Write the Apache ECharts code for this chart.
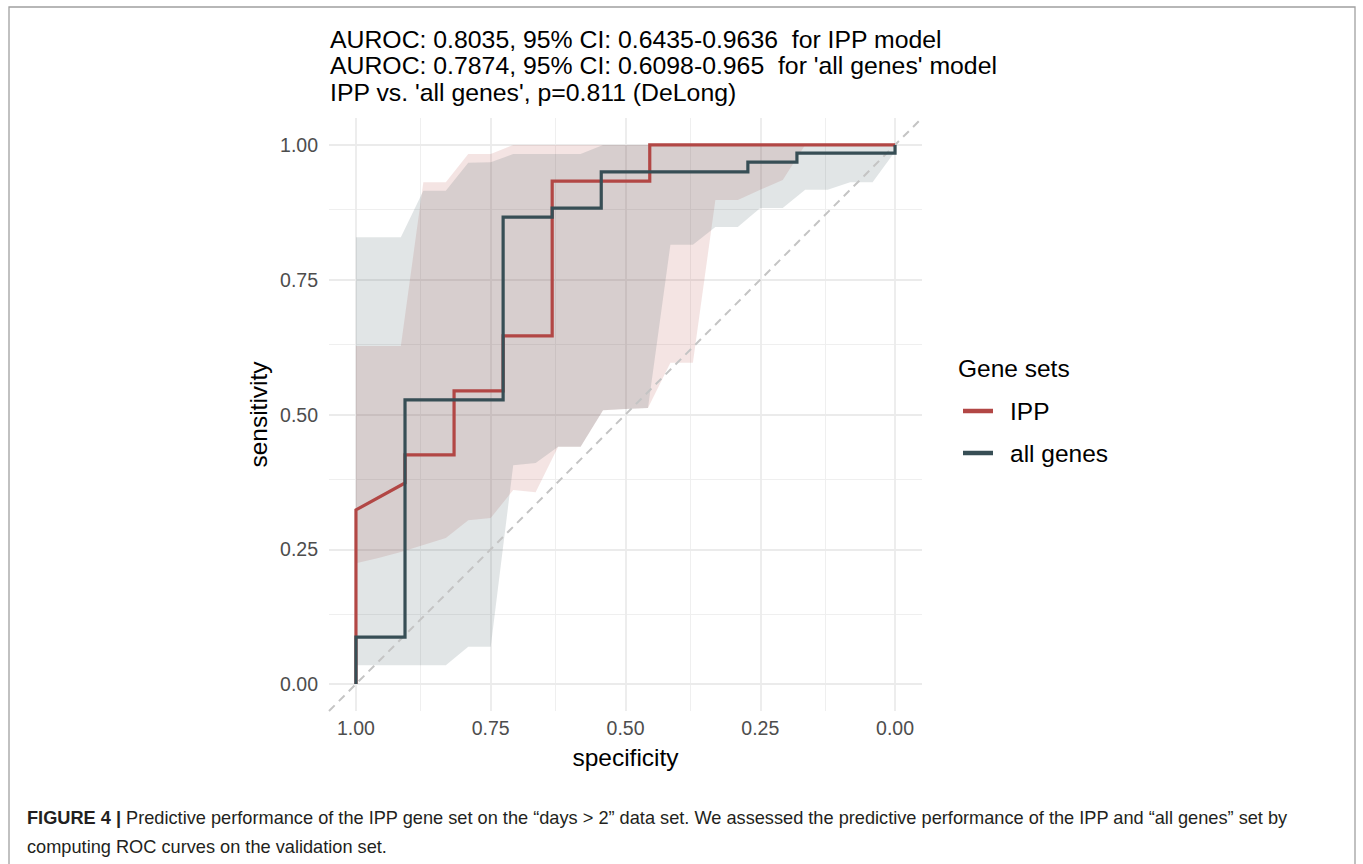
<!DOCTYPE html>
<html><head><meta charset="utf-8">
<script src="https://cdn.jsdelivr.net/npm/echarts@6/dist/echarts.min.js"></script>
<style>html,body{margin:0;padding:0;background:#fff}#c{width:1363px;height:864px}</style>
</head><body><div id="c"></div>
<script>
// ---- text ----
const titleLines = [
  "AUROC: 0.8035, 95% CI: 0.6435-0.9636  for IPP model",
  "AUROC: 0.7874, 95% CI: 0.6098-0.965  for 'all genes' model",
  "IPP vs. 'all genes', p=0.811 (DeLong)"
];
const xName = "specificity";
const yName = "sensitivity";
const legendTitle = "Gene sets";
const seriesNames = ["IPP", "all genes"];
const captionBold = "FIGURE 4 |";
const captionLine1 = " Predictive performance of the IPP gene set on the \u201cdays > 2\u201d data set. We assessed the predictive performance of the IPP and \u201call genes\u201d set by";
const captionLine2 = "computing ROC curves on the validation set.";

// ---- ticks ----
const xTicks = [0, 0.25, 0.5, 0.75, 1];
const yTicks = [0, 0.25, 0.5, 0.75, 1];
const minorTicks = [0.125, 0.375, 0.625, 0.875];

// ---- confidence bands (sensitivity CI at specificity grid) ----
const ciSpec   = [1, 0.9583, 0.9167, 0.875, 0.8333, 0.7917, 0.75, 0.7083, 0.6667, 0.625, 0.5833, 0.5417, 0.5, 0.4583, 0.4167, 0.375, 0.3333, 0.2917, 0.25, 0.2083, 0.1667, 0.125, 0.0833, 0.0417, 0];
const ippLower = [0.224, 0.234, 0.245, 0.258, 0.271, 0.304, 0.308, 0.36, 0.356, 0.44, 0.44, 0.508, 0.51, 0.512, 0.596, 0.596, 0.898, 0.898, 0.917, 0.935, 1, 1, 1, 1, 1];
const ippUpper = [0.627, 0.627, 0.627, 0.931, 0.931, 0.983, 0.983, 1, 1, 1, 1, 1, 1, 1, 1, 1, 1, 1, 1, 1, 1, 1, 1, 1, 1];
const allLower = [0.035, 0.035, 0.035, 0.035, 0.035, 0.069, 0.069, 0.406, 0.41, 0.44, 0.44, 0.508, 0.51, 0.512, 0.815, 0.815, 0.848, 0.848, 0.883, 0.883, 0.917, 0.917, 0.931, 0.931, 0.988];
const allUpper = [0.829, 0.829, 0.829, 0.915, 0.915, 0.967, 0.968, 0.983, 0.983, 0.983, 0.983, 1, 1, 1, 1, 1, 1, 1, 1, 1, 1, 1, 1, 1, 1];

// ---- ROC curves ----
const ippSpec = [1, 1, 0.909, 0.909, 0.818, 0.818, 0.727, 0.727, 0.636, 0.636, 0.455, 0.455, 0];
const ippSens = [0, 0.323, 0.373, 0.425, 0.425, 0.544, 0.544, 0.646, 0.646, 0.933, 0.933, 1, 1];
const allSpec = [1, 1, 0.909, 0.909, 0.727, 0.727, 0.636, 0.636, 0.545, 0.545, 0.273, 0.273, 0.182, 0.182, 0, 0];
const allSens = [0, 0.087, 0.087, 0.527, 0.527, 0.866, 0.866, 0.883, 0.883, 0.95, 0.95, 0.968, 0.968, 0.985, 0.985, 1];

// chance diagonal
const chanceSpec = [1.05, -0.05];
const chanceSens = [-0.05, 1.05];

const RED = '#B24745', DARK = '#374E55';
const FONT = '"Liberation Sans", Arial, Helvetica, sans-serif';

function bandSeries(lower, upper, fill) {
  const data = ciSpec.map((s, i) => [s, lower[i], upper[i]]);
  return {
    type: 'custom', z: 2, silent: true, clip: true,
    data: data,
    encode: { x: 0, y: [1, 2] },
    renderItem: function (params, api) {
      if (params.dataIndex !== 0) return null;
      const pts = [];
      for (let i = 0; i < data.length; i++) pts.push(api.coord([data[i][0], data[i][2]]));
      for (let i = data.length - 1; i >= 0; i--) pts.push(api.coord([data[i][0], data[i][1]]));
      return { type: 'polygon', shape: { points: pts }, style: { fill: fill } };
    }
  };
}

const majorLS = { color: '#ebebeb', width: 1.8, type: 'solid' };
const minorLS = { color: '#efefef', width: 1, type: 'solid' };
const gridMarks = []
  .concat(minorTicks.map(v => ({ xAxis: v, lineStyle: minorLS })))
  .concat(minorTicks.map(v => ({ yAxis: v, lineStyle: minorLS })))
  .concat(xTicks.map(v => ({ xAxis: v, lineStyle: majorLS })))
  .concat(yTicks.map(v => ({ yAxis: v, lineStyle: majorLS })));

const chart = echarts.init(document.getElementById('c'), null, { renderer: 'svg' });
chart.setOption({
  animation: false,
  backgroundColor: '#fff',
  textStyle: { fontFamily: FONT },
  title: {
    text: titleLines.join('\n'),
    left: 330, top: 26, padding: 0,
    textStyle: { fontFamily: FONT, fontSize: 24.8, fontWeight: 'normal', color: '#000', lineHeight: 26.5 }
  },
  grid: { left: 329, right: 441, top: 118, bottom: 153, containLabel: false },
  xAxis: {
    type: 'value', min: -0.05, max: 1.05, inverse: true,
    name: xName, nameLocation: 'middle', nameGap: 34,
    nameTextStyle: { fontFamily: FONT, fontSize: 24.5, color: '#000' },
    axisLine: { show: false }, axisTick: { show: false, customValues: xTicks },
    splitLine: { show: false },
    axisLabel: { customValues: xTicks, formatter: v => v.toFixed(2), fontFamily: FONT, fontSize: 19.5, color: '#4D4D4D', margin: 7 }
  },
  yAxis: {
    type: 'value', min: -0.05, max: 1.05,
    name: yName, nameLocation: 'middle', nameGap: 58, nameRotate: 90,
    nameTextStyle: { fontFamily: FONT, fontSize: 24.5, color: '#000' },
    axisLine: { show: false }, axisTick: { show: false, customValues: yTicks },
    splitLine: { show: false },
    axisLabel: { customValues: yTicks, formatter: v => v.toFixed(2), fontFamily: FONT, fontSize: 19.5, color: '#4D4D4D', margin: 11 }
  },
  legend: {
    orient: 'vertical', left: 963, top: 397, padding: 0,
    icon: 'rect', itemWidth: 30, itemHeight: 4.5, itemGap: 14,
    textStyle: { fontFamily: FONT, fontSize: 24.5, color: '#000', padding: [0, 0, 0, 12], lineHeight: 28 },
    data: [{ name: seriesNames[0], itemStyle: { color: RED } }, { name: seriesNames[1], itemStyle: { color: DARK } }],
    selectedMode: false
  },
  graphic: [
    { type: 'rect', silent: true, shape: { x: 9, y: 7, width: 1346, height: 900 }, style: { fill: 'none', stroke: '#a0a0a0', lineWidth: 1.3 } },
    { type: 'text', left: 958, top: 356, style: { text: legendTitle, font: '24.5px ' + FONT, fill: '#000' } },
    { type: 'text', left: 27, top: 809, style: {
        text: '{b|' + captionBold + '}{n|' + captionLine1 + '}\n{n|' + captionLine2 + '}',
        rich: { b: { fontFamily: FONT, fontWeight: 'bold', fontSize: 18.2, fill: '#231f20', lineHeight: 29 },
                n: { fontFamily: FONT, fontSize: 18.2, fill: '#231f20', lineHeight: 29 } }
      } }
  ],
  series: [
    { type: 'line', name: '_grid', data: [], z: 0, silent: true,
      markLine: { silent: true, z: 0, symbol: ['none', 'none'], label: { show: false }, emphasis: { disabled: true }, animation: false, data: gridMarks } },
    bandSeries(ippLower, ippUpper, 'rgba(178,71,69,0.15)'),
    bandSeries(allLower, allUpper, 'rgba(55,78,85,0.15)'),
    { type: 'line', name: '_chance', z: 3, silent: true, showSymbol: false, symbol: 'none',
      data: chanceSpec.map((s, i) => [s, chanceSens[i]]),
      lineStyle: { color: '#c4c4c4', width: 2, type: [8, 6] } },
    { type: 'line', name: seriesNames[0], z: 4, showSymbol: false, symbol: 'none',
      data: ippSpec.map((s, i) => [s, ippSens[i]]),
      itemStyle: { color: RED }, lineStyle: { color: RED, width: 3.2, join: 'miter', cap: 'butt' } },
    { type: 'line', name: seriesNames[1], z: 5, showSymbol: false, symbol: 'none',
      data: allSpec.map((s, i) => [s, allSens[i]]),
      itemStyle: { color: DARK }, lineStyle: { color: DARK, width: 3.2, join: 'miter', cap: 'butt' } }
  ]
});
</script></body></html>
